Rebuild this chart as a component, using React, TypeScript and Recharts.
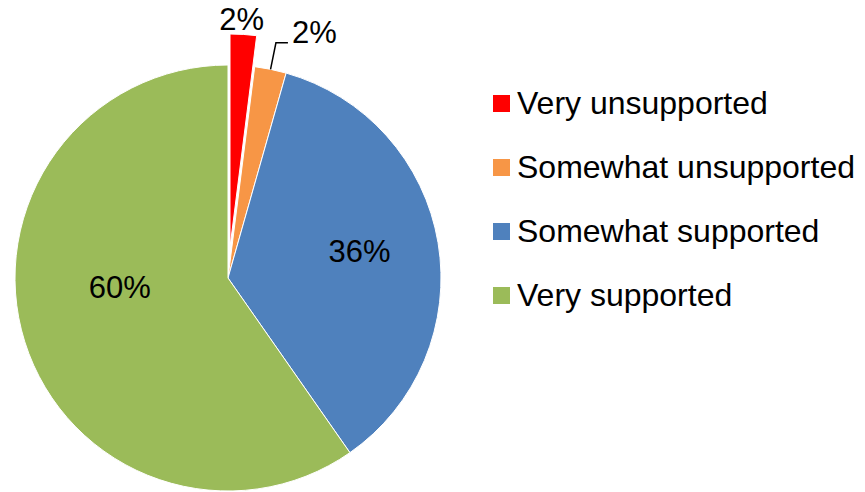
import { PieChart, Pie, Cell, Legend } from "recharts";

const categories = [
  "Very unsupported",
  "Somewhat unsupported",
  "Somewhat supported",
  "Very supported",
];
const shares = [2.0, 2.4, 35.9, 59.7];
const colors = ["#FF0000", "#F79646", "#4F81BD", "#9BBB59"];

const data = categories.map((name, i) => ({ name, value: shares[i] }));

const RAD = Math.PI / 180;
const FONT = "'Liberation Sans', Arial, sans-serif";
const FONT_SIZE = 31;

// label nudges (Excel "best fit" placement)
const labelRadius = [0, 0, 0.63, 0.51];
const labelShift = [0, 0, 2, -12.5];

function renderLabel(props: any) {
  const { cx, cy, midAngle, outerRadius, percent, index } = props;
  const text = `${Math.round(percent * 100)}%`;
  const common = { fill: "#000", fontSize: FONT_SIZE, fontFamily: FONT };

  if (index === 0) {
    const r = outerRadius + 4;
    const a = -midAngle * RAD;
    return (
      <text x={cx + r * Math.cos(a) - 2} y={cy + r * Math.sin(a)} textAnchor="middle" {...common}>
        {text}
      </text>
    );
  }
  if (index === 1) {
    const a = -midAngle * RAD;
    const x0 = cx + outerRadius * Math.cos(a);
    const y0 = cy + outerRadius * Math.sin(a);
    const x1 = cx + (outerRadius + 27) * Math.cos(a);
    const y1 = cy + (outerRadius + 27) * Math.sin(a);
    return (
      <g>
        <path d={`M${x0},${y0}L${x1},${y1}L${x1 + 12},${y1}`} stroke="#000" strokeWidth={1.5} fill="none" />
        <text x={x1 + 16} y={y1} textAnchor="start" {...common}>
          {text}
        </text>
      </g>
    );
  }
  const a = -(midAngle + labelShift[index]) * RAD;
  const r = outerRadius * labelRadius[index];
  return (
    <text x={cx + r * Math.cos(a)} y={cy + r * Math.sin(a) + 11} textAnchor="middle" {...common}>
      {text}
    </text>
  );
}

function LegendContent() {
  return (
    <div style={{ fontFamily: FONT, fontSize: 32, color: "#000" }}>
      {categories.map((name, i) => (
        <div key={name} style={{ height: 64, display: "flex", alignItems: "center" }}>
          <span style={{ width: 17, height: 17, background: colors[i], marginRight: 7, flexShrink: 0 }} />
          <span style={{ whiteSpace: "nowrap" }}>{name}</span>
        </div>
      ))}
    </div>
  );
}

export default function App() {
  return (
    <div style={{ position: "absolute", left: 0, top: 0, background: "#fff" }}>
      <PieChart width={865} height={492} margin={{ top: 0, right: 0, bottom: 0, left: 0 }}>
        <Pie
          data={data}
          dataKey="value"
          nameKey="name"
          cx={228}
          cy={278}
          outerRadius={213}
          startAngle={90}
          endAngle={-270}
          stroke="#fff"
          strokeWidth={1}
          label={(p: any) => (p.index === 0 ? null : renderLabel(p))}
          labelLine={false}
          legendType="none"
          isAnimationActive={false}
        >
          {data.map((d, i) => (
            <Cell key={d.name} fill={i === 0 ? "none" : colors[i]} stroke={i === 0 ? "none" : "#fff"} />
          ))}
        </Pie>
        {/* exploded "Very unsupported" slice */}
        <Pie
          data={data}
          dataKey="value"
          nameKey="name"
          cx={230}
          cy={247}
          outerRadius={213}
          startAngle={90}
          endAngle={-270}
          label={(p: any) => (p.index === 0 ? renderLabel(p) : null)}
          labelLine={false}
          legendType="none"
          isAnimationActive={false}
        >
          {data.map((d, i) => (
            <Cell key={d.name} fill={i === 0 ? colors[0] : "none"} stroke={i === 0 ? "#fff" : "none"} />
          ))}
        </Pie>
        <Legend
          layout="vertical"
          align="right"
          verticalAlign="top"
          content={() => <LegendContent />}
          wrapperStyle={{ left: 493, top: 71, width: 370, right: "auto" }}
        />
      </PieChart>
    </div>
  );
}
